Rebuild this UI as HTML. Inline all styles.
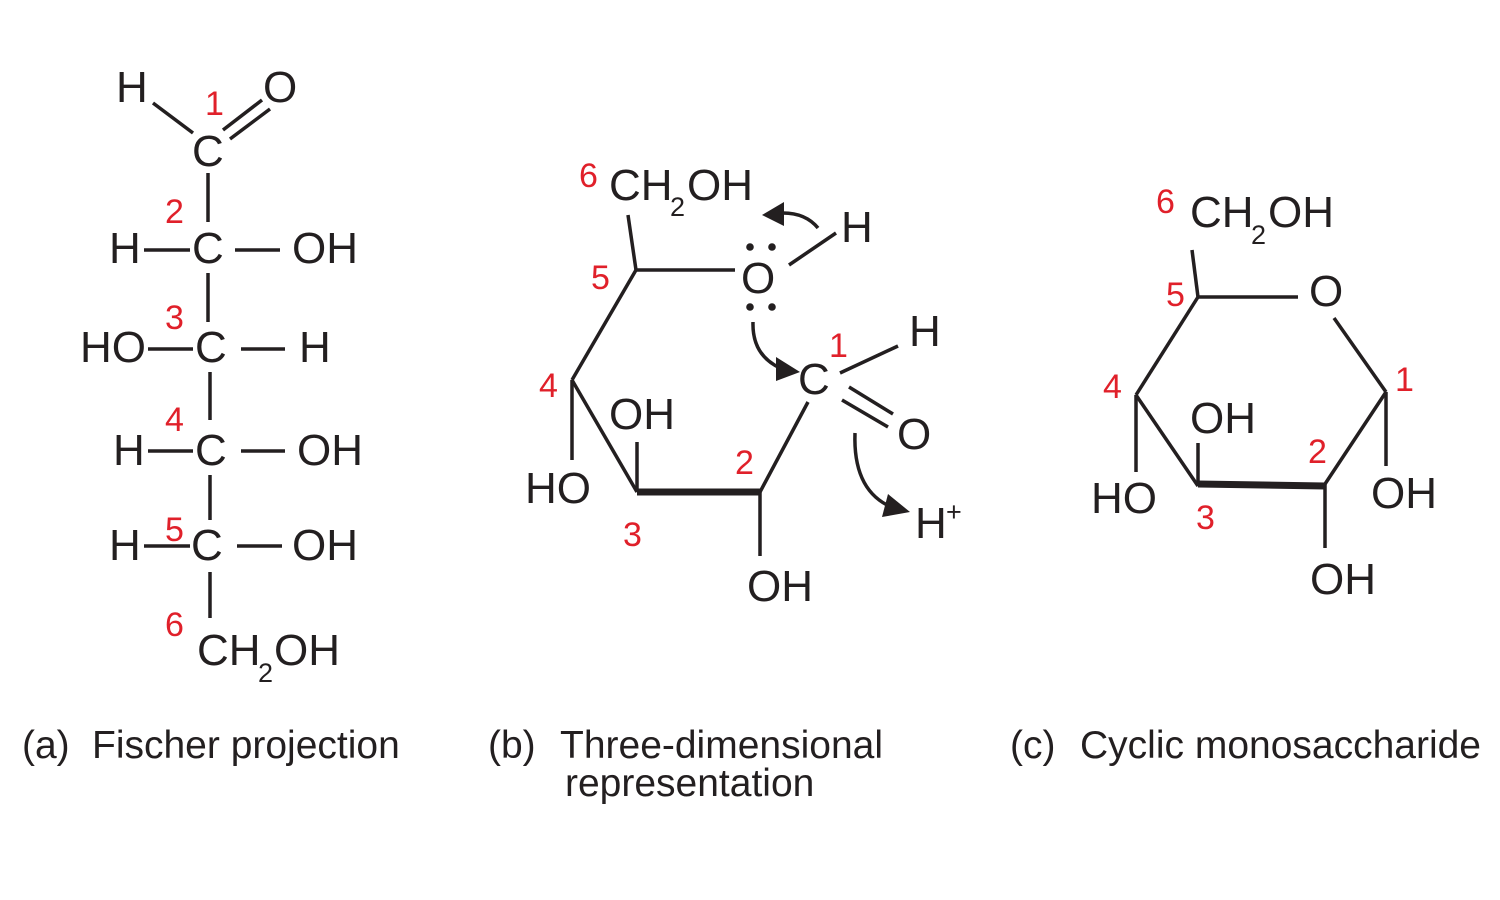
<!DOCTYPE html>
<html><head><meta charset="utf-8"><style>
html,body{margin:0;padding:0;background:#fff}
svg{display:block}
text{font-family:"Liberation Sans","DejaVu Sans",sans-serif;fill:#231f20}
.t{font-size:44px}
.r{font-size:34px;fill:#e0202a}
.s{font-size:27px}
.l{font-size:39px}
line,path{stroke:#231f20;stroke-width:3.5;fill:none}
</style></head><body>
<svg width="1500" height="900" viewBox="0 0 1500 900" xmlns="http://www.w3.org/2000/svg">
<!-- Panel a -->
<text class="t" x="116" y="102">H</text>
<text class="t" x="263" y="102">O</text>
<text class="r" x="205" y="115">1</text>
<text class="t" x="192" y="166">C</text>
<line x1="153" y1="103" x2="193" y2="133"/>
<line x1="223" y1="130" x2="262" y2="100"/>
<line x1="230" y1="139" x2="270" y2="109"/>
<line x1="208" y1="173" x2="208" y2="222"/>
<text class="r" x="165" y="223">2</text>
<text class="t" x="109" y="263">H</text><line x1="144" y1="250" x2="190" y2="250"/>
<text class="t" x="192" y="263">C</text><line x1="235" y1="250" x2="280" y2="250"/>
<text class="t" x="292" y="263">OH</text>
<line x1="208" y1="273" x2="208" y2="322"/>
<text class="r" x="165" y="329">3</text>
<text class="t" x="80" y="362">HO</text><line x1="148" y1="349" x2="193" y2="349"/>
<text class="t" x="195" y="362">C</text><line x1="241" y1="349" x2="285" y2="349"/>
<text class="t" x="299" y="362">H</text>
<line x1="210" y1="372" x2="210" y2="420"/>
<text class="r" x="165" y="431">4</text>
<text class="t" x="113" y="465">H</text><line x1="148" y1="451" x2="193" y2="451"/>
<text class="t" x="195" y="465">C</text><line x1="241" y1="451" x2="285" y2="451"/>
<text class="t" x="297" y="465">OH</text>
<line x1="210" y1="475" x2="210" y2="520"/>
<text class="t" x="109" y="560">H</text><line x1="144" y1="546" x2="190" y2="546"/>
<text class="r" x="165" y="541">5</text>
<text class="t" x="191" y="560">C</text><line x1="237" y1="546" x2="282" y2="546"/>
<text class="t" x="292" y="560">OH</text>
<line x1="210" y1="572" x2="210" y2="618"/>
<text class="r" x="165" y="636">6</text>
<text class="t" x="197" y="665">CH</text><text class="s" x="258" y="682">2</text><text class="t" x="274" y="665">OH</text>

<!-- Panel b -->
<text class="r" x="579" y="187">6</text>
<text class="t" x="609" y="200">CH</text><text class="s" x="670" y="216">2</text><text class="t" x="687" y="200">OH</text>
<line x1="628" y1="215" x2="636" y2="270"/>
<line x1="636" y1="270" x2="735" y2="270"/>
<text class="r" x="591" y="289">5</text>
<text class="t" x="741" y="293">O</text>
<circle cx="750" cy="247" r="3.8" fill="#231f20"/><circle cx="772" cy="247" r="3.8" fill="#231f20"/>
<circle cx="750" cy="307" r="3.8" fill="#231f20"/><circle cx="772" cy="307" r="3.8" fill="#231f20"/>
<line x1="789" y1="265" x2="836" y2="233"/>
<text class="t" x="841" y="242">H</text>
<path d="M818,228 Q805,212 780,213"/>
<polygon points="762,215 784,202 784,226" fill="#231f20"/>
<line x1="636" y1="270" x2="572" y2="380"/>
<text class="r" x="539" y="397">4</text>
<line x1="572" y1="380" x2="572" y2="460"/>
<text class="t" x="525" y="503">HO</text>
<line x1="572" y1="380" x2="637" y2="492"/>
<line x1="637" y1="442" x2="637" y2="492"/>
<text class="t" x="609" y="429">OH</text>
<line x1="637" y1="492" x2="760" y2="492" style="stroke-width:7"/>
<text class="r" x="623" y="546">3</text>
<line x1="760" y1="492" x2="760" y2="556"/>
<text class="t" x="747" y="601">OH</text>
<line x1="760" y1="492" x2="808" y2="402"/>
<text class="r" x="735" y="474">2</text>
<text class="t" x="798" y="394">C</text>
<text class="r" x="829" y="357">1</text>
<line x1="840" y1="373" x2="898" y2="346"/>
<text class="t" x="909" y="346">H</text>
<line x1="849" y1="387" x2="893" y2="414"/>
<line x1="842" y1="400" x2="888" y2="427"/>
<text class="t" x="897" y="449">O</text>
<path d="M753,322 Q752,355 780,368"/>
<polygon points="800,372 776,357 776,381" fill="#231f20"/>
<path d="M855,433 Q853,487 887,505"/>
<polygon points="910,512 888,494 882,517" fill="#231f20"/>
<text class="t" x="915" y="538">H</text><text class="s" x="946" y="521">+</text>

<!-- Panel c -->
<text class="r" x="1156" y="213">6</text>
<text class="t" x="1190" y="227">CH</text><text class="s" x="1251" y="244">2</text><text class="t" x="1268" y="227">OH</text>
<line x1="1192" y1="250" x2="1198" y2="297"/>
<line x1="1198" y1="297" x2="1298" y2="297"/>
<text class="r" x="1166" y="306">5</text>
<text class="t" x="1309" y="306">O</text>
<line x1="1334" y1="318" x2="1386" y2="392"/>
<text class="r" x="1395" y="391">1</text>
<line x1="1386" y1="392" x2="1386" y2="466"/>
<text class="t" x="1371" y="508">OH</text>
<line x1="1386" y1="392" x2="1325" y2="484"/>
<text class="r" x="1308" y="463">2</text>
<line x1="1325" y1="484" x2="1325" y2="548"/>
<text class="t" x="1310" y="594">OH</text>
<line x1="1198" y1="484" x2="1325" y2="486" style="stroke-width:7"/>
<text class="r" x="1196" y="529">3</text>
<line x1="1198" y1="443" x2="1198" y2="486"/>
<text class="t" x="1190" y="433">OH</text>
<line x1="1198" y1="297" x2="1136" y2="395"/>
<line x1="1136" y1="395" x2="1198" y2="486"/>
<line x1="1136" y1="395" x2="1136" y2="472"/>
<text class="r" x="1103" y="398">4</text>
<text class="t" x="1091" y="513">HO</text>

<!-- Captions -->
<text class="l" x="22" y="758">(a)</text><text class="l" x="92" y="758">Fischer projection</text>
<text class="l" x="488" y="758">(b)</text><text class="l" x="560" y="758">Three-dimensional</text>
<text class="l" x="565" y="796">representation</text>
<text class="l" x="1010" y="758">(c)</text><text class="l" x="1080" y="758">Cyclic monosaccharide</text>
</svg>
</body></html>
